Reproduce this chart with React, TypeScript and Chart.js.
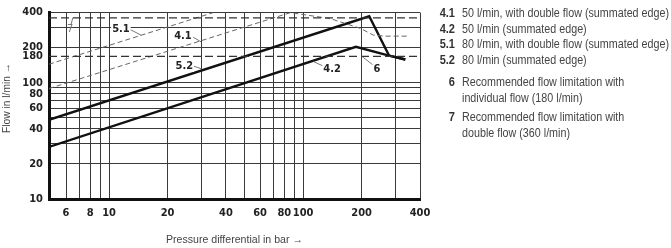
import React, { useEffect, useRef } from 'react';
import { Chart, registerables } from 'chart.js';
Chart.register(...registerables);

// ---- axes ----
const X_MIN = 4.9;
const X_MAX = 400;
const Y_MIN = 10;
const Y_MAX = 400;
const xGridValues = [6, 7, 8, 9, 10, 20, 30, 40, 50, 60, 70, 80, 90, 100, 200, 300, 400];
const xTickLabels = [6, 8, 10, 20, 40, 60, 80, 100, 200, 400];
const yGridValues = [20, 30, 40, 50, 60, 70, 80, 90, 100, 200, 300, 400];
const yTickLabels = [10, 20, 40, 60, 80, 100, 200, 400];
const xTitle = 'Pressure differential in bar →';
const yTitle = 'Flow in l/min →';

// ---- curves: pressure differential (bar) / flow (l/min) ----
const curve41P = [4.9, 86, 138, 197, 230, 265, 344];
const curve41Q = [89, 400, 355, 293, 256, 251, 251];
const curve42P = [4.9, 187, 277, 336];
const curve42Q = [28, 203, 171, 158];
const curve51P = [4.9, 34.4];
const curve51Q = [144, 400];
const curve52P = [4.9, 219, 277, 336];
const curve52Q = [48, 372, 171, 158];

// limit lines (6: drawn position of the 180 l/min limit, 7: 360 l/min)
const limit6Q = 168;
const limit6Label = '180';
const limit7Q = 360;

// ---- in-plot labels ----
const annotTexts = ['5.1', '4.1', '5.2', '4.2', '6', '7'];
const annotP = [11.5, 24.0, 24.4, 141, 240, 6.3];
const annotQ = [287, 251, 139, 131, 131, 287];
const leaderFromP = [12.8, 27.1, 27.1, 112.6, 201, 6.5];
const leaderFromQ = [287, 246, 139, 152, 168, 362];
const leaderToP = [14.6, 29.8, 30.2, 126.8, 230, 6.37];
const leaderToQ = [256, 224, 131, 139, 141, 316];

// ---- legend ----
const legendNums = ['4.1', '4.2', '5.1', '5.2', '6', '', '7', ''];
const legendTexts = [
  '50 l/min, with double flow (summated edge)',
  '50 l/min (summated edge)',
  '80 l/min, with double flow (summated edge)',
  '80 l/min (summated edge)',
  'Recommended flow limitation with',
  'individual flow (180 l/min)',
  'Recommended flow limitation with',
  'double flow (360 l/min)',
];
const legendY = [13, 28.5, 44, 59.5, 82, 97.5, 117, 132.5];

const TEXT_FAMILY = '"Liberation Sans", Arial, sans-serif';
const TICK_FONT = '"DejaVu Sans Condensed", "DejaVu Sans", sans-serif';

const pts = (p: number[], q: number[]) => p.map((v, i) => ({ x: v, y: q[i] }));

function measure(text: string, font: string): number {
  const c = document.createElement('canvas').getContext('2d');
  if (!c) return text.length * 6;
  c.font = font;
  return c.measureText(text).width;
}

const LEGEND_FONT = '12px ' + TEXT_FAMILY;
const TITLE_FONT = '11.5px ' + TEXT_FAMILY;

function drawFitted(ctx: any, text: string, font: string, cx: number, cy: number, width: number, rotate: boolean) {
  ctx.save();
  ctx.font = font;
  const w = ctx.measureText(text).width;
  const s = width / w;
  ctx.translate(cx, cy);
  if (rotate) ctx.rotate(-Math.PI / 2);
  ctx.scale(s, 1);
  ctx.textAlign = 'center';
  ctx.textBaseline = 'middle';
  ctx.fillStyle = '#444';
  ctx.fillText(text, 0, 0);
  ctx.restore();
}

const annotPlugin = {
  id: 'annot',
  afterDatasetsDraw(chart: any) {
    const { ctx, scales, chartArea } = chart;
    const xs = scales.x;
    const ys = scales.y;
    ctx.save();
    ctx.strokeStyle = '#555';
    ctx.lineWidth = 0.8;
    for (let i = 0; i < annotTexts.length; i++) {
      ctx.beginPath();
      ctx.moveTo(xs.getPixelForValue(leaderFromP[i]), ys.getPixelForValue(leaderFromQ[i]));
      ctx.lineTo(xs.getPixelForValue(leaderToP[i]), ys.getPixelForValue(leaderToQ[i]));
      ctx.stroke();
    }
    ctx.textAlign = 'center';
    ctx.textBaseline = 'middle';
    for (let i = 0; i < annotTexts.length; i++) {
      const isSeven = annotTexts[i] === '7';
      ctx.font = (isSeven ? '' : 'bold ') + '11px ' + TICK_FONT;
      const x = xs.getPixelForValue(annotP[i]);
      const y = ys.getPixelForValue(annotQ[i]);
      if (!isSeven) {
        const w = ctx.measureText(annotTexts[i]).width;
        ctx.fillStyle = '#fff';
        ctx.fillRect(x - w / 2 - 1, y - 6, w + 2, 12);
      }
      ctx.fillStyle = isSeven ? '#777' : '#222';
      ctx.fillText(annotTexts[i], x, y);
    }
    ctx.restore();
    // axis titles (condensed)
    const midX = (chartArea.left + chartArea.right) / 2;
    drawFitted(ctx, xTitle, TITLE_FONT, midX, 240, 137, false);
    drawFitted(ctx, yTitle, TITLE_FONT, 7, 98, 70, true);
  },
};

export default function App() {
  const ref = useRef<HTMLCanvasElement>(null);
  useEffect(() => {
    const canvas = ref.current;
    if (!canvas) return;
    const yTickValues = [Y_MIN, ...yGridValues, limit6Q].sort((a, b) => a - b);
    const solid = { borderColor: '#111', borderWidth: 2.4, pointRadius: 0, showLine: true, fill: false, tension: 0 };
    const dashed = { borderColor: '#666', borderWidth: 1, borderDash: [5, 3], pointRadius: 0, showLine: true, fill: false, tension: 0 };
    const limit = { borderColor: '#333', borderWidth: 1.2, borderDash: [8, 4], pointRadius: 0, showLine: true, fill: false, tension: 0 };
    const chart = new Chart(canvas, {
      type: 'scatter',
      data: {
        datasets: [
          { label: '7', data: pts([X_MIN, X_MAX], [limit7Q, limit7Q]), ...limit },
          { label: '6', data: pts([X_MIN, X_MAX], [limit6Q, limit6Q]), ...limit },
          { label: '5.1', data: pts(curve51P, curve51Q), ...dashed },
          { label: '4.1', data: pts(curve41P, curve41Q), ...dashed },
          { label: '5.2', data: pts(curve52P, curve52Q), ...solid },
          { label: '4.2', data: pts(curve42P, curve42Q), ...solid },
        ] as any,
      },
      options: {
        responsive: false,
        devicePixelRatio: 1,
        animation: false,
        events: [],
        layout: { padding: { left: 0, right: 251, top: 7, bottom: 0 } },
        plugins: { legend: { display: false }, tooltip: { enabled: false }, title: { display: false } },
        scales: {
          x: {
            type: 'logarithmic',
            min: X_MIN,
            max: X_MAX,
            afterBuildTicks: (s: any) => {
              s.ticks = xGridValues.map((v) => ({ value: v }));
            },
            afterFit: (s: any) => {
              s.height = 49;
            },
            ticks: {
              autoSkip: false,
              maxRotation: 0,
              padding: 8,
              color: '#222',
              font: { family: TICK_FONT, size: 11, weight: 'bold' },
              callback: (v: any) => (xTickLabels.includes(Number(v)) ? String(v) : ''),
            },
            grid: { color: '#3a3a3a', lineWidth: 1, drawTicks: false },
            border: { display: true, color: '#111', width: 3 },
            title: { display: false },
          },
          y: {
            type: 'logarithmic',
            min: Y_MIN,
            max: Y_MAX,
            afterBuildTicks: (s: any) => {
              s.ticks = yTickValues.map((v) => ({ value: v }));
            },
            afterFit: (s: any) => {
              s.width = 49;
            },
            ticks: {
              autoSkip: false,
              padding: 6,
              color: '#222',
              font: { family: TICK_FONT, size: 11, weight: 'bold' },
              callback: (v: any) => {
                const n = Number(v);
                if (n === limit6Q) return limit6Label;
                return yTickLabels.includes(n) ? String(n) : '';
              },
            },
            grid: {
              color: (c: any) => (c.tick && c.tick.value === limit6Q ? 'rgba(0,0,0,0)' : '#3a3a3a'),
              lineWidth: 1,
              drawTicks: false,
            },
            border: { display: true, color: '#111', width: 3 },
            title: { display: false },
          },
        },
      } as any,
      plugins: [annotPlugin],
    });
    return () => chart.destroy();
  }, []);

  const legendScale = 207 / measure(legendTexts[0], LEGEND_FONT);

  return (
    <div style={{ position: 'fixed', left: 0, top: 0, width: 671, height: 248, background: '#fff', overflow: 'hidden' }}>
      <canvas ref={ref} width={671} height={248} style={{ position: 'absolute', left: 0, top: 0, width: 671, height: 248 }} />
      {legendTexts.map((t, i) => (
        <div key={i} style={{ position: 'absolute', left: 0, top: legendY[i] - 8, height: 16, lineHeight: '16px', whiteSpace: 'nowrap', fontFamily: TEXT_FAMILY, fontSize: 12 }}>
          <span style={{ position: 'absolute', left: 420, width: 35, textAlign: 'right', fontWeight: 'bold', color: '#333', display: 'inline-block', transform: 'scaleX(0.92)', transformOrigin: 'right center' }}>{legendNums[i]}</span>
          <span style={{ position: 'absolute', left: 462, color: '#444', display: 'inline-block', transform: `scaleX(${legendScale})`, transformOrigin: 'left center' }}>{t}</span>
        </div>
      ))}
    </div>
  );
}
